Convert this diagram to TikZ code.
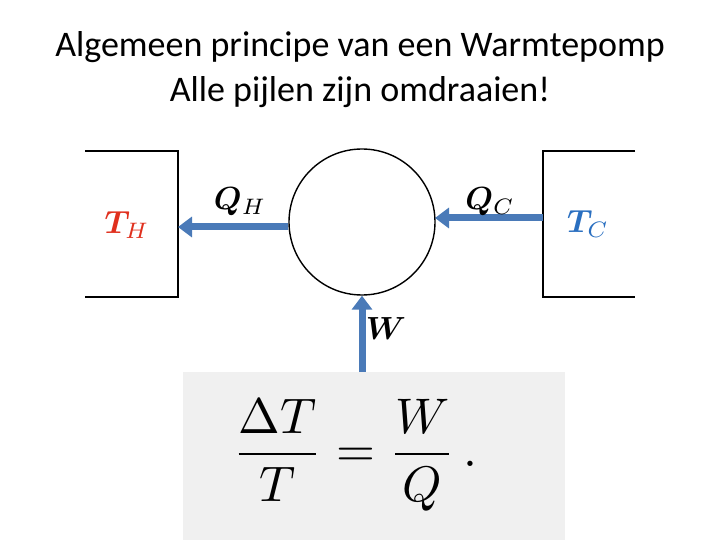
\documentclass[tikz,border=0pt]{standalone}
\usepackage{amsmath}
\usepackage{bm}
\usepackage{fontspec}
\setmainfont{Carlito}
\usetikzlibrary{arrows.meta}
\begin{document}
\begin{tikzpicture}[x=1pt,y=-1pt,
  wall/.style={line width=1.6pt},
  flow/.style={line width=7pt,draw=arrowblue,-{Triangle[length=14pt,width=20pt]}},
  lab/.style={scale=3.2,transform shape}]
\definecolor{arrowblue}{HTML}{4A7AB8}
\definecolor{thred}{HTML}{E0301E}
\definecolor{tcblue}{HTML}{2A6FC0}
\useasboundingbox (0,0) rectangle (720,540);
\node[font=\fontsize{36}{45}\selectfont, align=center] (title) at (360,70) {Algemeen principe van een Warmtepomp\\Alle pijlen zijn omdraaien!};
\draw[wall] (85,151) -- (178,151) -- (178,297) -- (85,297);
\draw[wall] (635,151) -- (543,151) -- (543,297) -- (635,297);
\node[circle,draw,line width=1.4pt,minimum size=146pt,inner sep=0] (c) at (362,222) {};
\coordinate (lw) at (178,227); \coordinate (rw) at (543,218); \coordinate (wb) at (362,372);
\draw[flow] (288,227) -- (lw);
\draw[flow] (rw) -- (435,218);
\draw[flow] (wb) -- (c.south);
\node[lab] (qh) at (240,202) {$\bm{Q}_{\scriptstyle H}$};
\node[lab] (qc) at (490,202) {$\bm{Q}_{\scriptstyle C}$};
\node[lab,text=thred] (th) at (127,225) {$\bm{T}_{\scriptstyle H}$};
\node[lab,text=tcblue] (tc) at (588,224) {$\bm{T}_{\scriptstyle C}$};
\node[lab] (w) at (386,329) {$\bm{W}$};
\fill[gray!12] (183,372) rectangle (565,540);
\node[scale=5,transform shape] (eq) at (355,455) {$\dfrac{\Delta T}{T}=\dfrac{W}{Q}\,.$};
\end{tikzpicture}
\end{document}
